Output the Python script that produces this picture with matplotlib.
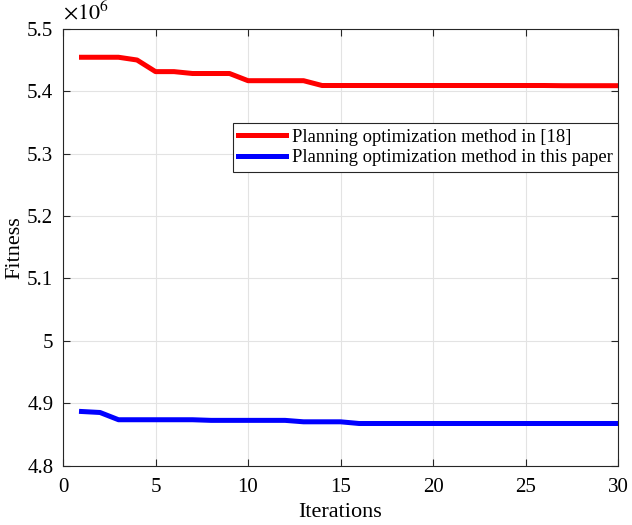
import matplotlib
matplotlib.use("Agg")
import matplotlib.pyplot as plt
from matplotlib.ticker import FuncFormatter, MultipleLocator

plt.rcParams["font.family"] = ["Liberation Serif", "DejaVu Serif"]
plt.rcParams["mathtext.fontset"] = "stix"

# fitness per iteration, in units of 1e6
iterations = list(range(1, 31))
fitness_ref18 = [5.454, 5.454, 5.454, 5.4496, 5.431, 5.431, 5.428, 5.428, 5.428, 5.4165,
                 5.4165, 5.4165, 5.4165, 5.4088, 5.4088, 5.4088, 5.4088, 5.4088, 5.4088, 5.4088,
                 5.4088, 5.4088, 5.4088, 5.4088, 5.4088, 5.4088, 5.4085, 5.4085, 5.4085, 5.4085]
fitness_this = [4.8872, 4.8856, 4.874, 4.874, 4.874, 4.874, 4.874, 4.873, 4.873, 4.873,
                4.873, 4.873, 4.8707, 4.8707, 4.8707, 4.868, 4.868, 4.868, 4.868, 4.868,
                4.868, 4.868, 4.868, 4.868, 4.868, 4.868, 4.868, 4.868, 4.868, 4.868]
labels = ["Planning optimization method in [18]",
          "Planning optimization method in this paper"]

fig = plt.figure(figsize=(6.32, 5.25), dpi=100)
ax = fig.add_axes([0.0997, 0.1124, 0.8783, 0.8333])

ax.plot(iterations, [v * 1e6 for v in fitness_ref18], color="#ff0000", lw=3.6, label=labels[0])
ax.plot(iterations, [v * 1e6 for v in fitness_this], color="#0000ff", lw=3.6, label=labels[1])

ax.set_xlim(0, 30)
ax.set_ylim(4.8e6, 5.5e6)
ax.xaxis.set_major_locator(MultipleLocator(5))
ax.yaxis.set_major_locator(MultipleLocator(0.1e6))
ax.yaxis.set_major_formatter(FuncFormatter(lambda v, p: "%g" % round(v / 1e6, 3)))
ax.text(0.0, 1.01, r"$\times 10^6$", transform=ax.transAxes, fontsize=16, va="bottom", ha="left")

ax.grid(True, color="#e3e3e3", lw=0.8)
ax.tick_params(direction="in", top=True, right=True, labelsize=15, length=5, width=0.8,
               color="#262626")
ax.tick_params(axis="x", pad=9)
ax.tick_params(axis="y", pad=7)
for s in ax.spines.values():
    s.set_color("#262626")
    s.set_linewidth(0.8)

ax.set_xlabel("Iterations", fontsize=16, labelpad=4)
ax.set_ylabel("Fitness", fontsize=16, labelpad=2)

leg = ax.legend(loc="upper right", bbox_to_anchor=(1.0, 0.784), borderaxespad=0,
                fontsize=13.3, fancybox=False, framealpha=1, edgecolor="#262626",
                handlelength=2.6, handletextpad=0.3, borderpad=0.3, labelspacing=0.2)
leg.get_frame().set_linewidth(0.8)

fig.savefig("out.png", dpi=100)
